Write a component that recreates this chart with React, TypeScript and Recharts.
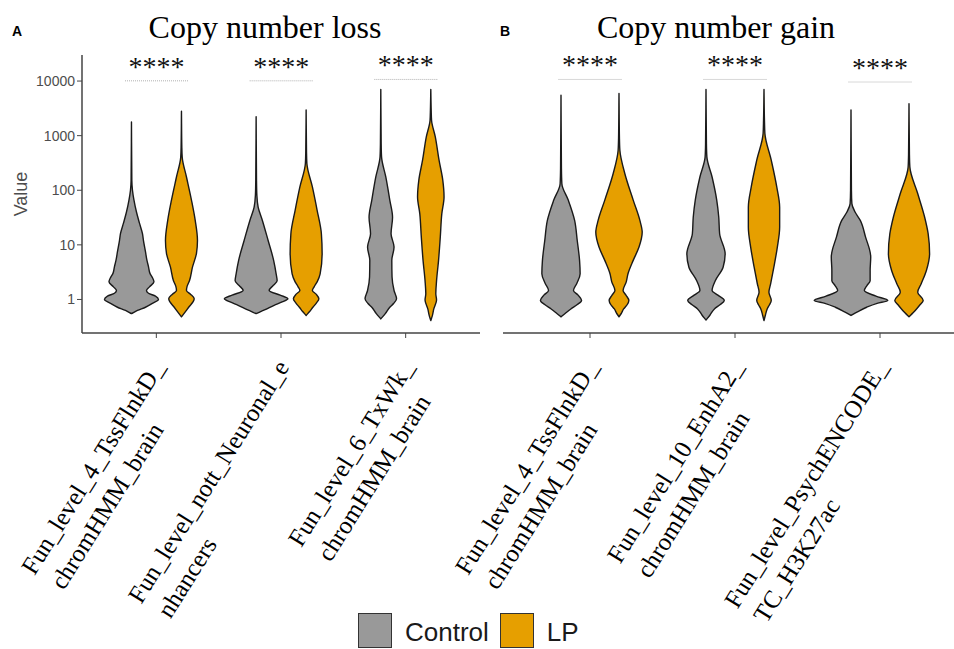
import React from 'react';
import { BarChart, Bar, XAxis, YAxis, Legend } from 'recharts';

// ============================================================================
// DATA
// ============================================================================

type Profile = [number, number][]; // [value, relative half-width], low -> high

const LOSS_CATEGORIES = [
  'Fun_level_4_TssFlnkD_\nchromHMM_brain',
  'Fun_level_nott_Neuronal_e\nnhancers',
  'Fun_level_6_TxWk_\nchromHMM_brain',
];

const GAIN_CATEGORIES = [
  'Fun_level_4_TssFlnkD_\nchromHMM_brain',
  'Fun_level_10_EnhA2_\nchromHMM_brain',
  'Fun_level_PsychENCODE_\nTC_H3K27ac',
];

const SERIES = [
  { key: 'control', name: 'Control', color: '#999999' },
  { key: 'lp', name: 'LP', color: '#E69F00' },
];

const LOSS_CONTROL: Profile[] = [
  [[0.55, 0], [0.63, 0.24], [0.72, 0.56], [0.85, 0.84], [1, 1.08], [1.15, 0.96], [1.3, 0.68], [1.46, 0.6], [1.7, 0.72], [2.1, 0.9], [2.5, 0.84], [3, 0.74], [4, 0.68], [5.2, 0.62], [7.5, 0.56], [12, 0.48], [16, 0.44], [25, 0.32], [40, 0.2], [66, 0.1], [100, 0.04], [150, 0.015], [1780, 0]],
  [[0.55, 0], [0.65, 0.36], [0.78, 0.72], [0.9, 1.04], [1.03, 1.27], [1.2, 0.96], [1.46, 0.52], [1.8, 0.68], [2.2, 0.84], [2.95, 0.8], [5.2, 0.7], [12, 0.48], [28, 0.25], [49, 0.08], [80, 0.03], [150, 0.015], [2230, 0]],
  [[0.44, 0], [0.55, 0.18], [0.72, 0.36], [0.85, 0.52], [1.03, 0.63], [1.46, 0.53], [2.57, 0.45], [5.2, 0.44], [9.1, 0.53], [16, 0.41], [32, 0.47], [66, 0.36], [175, 0.2], [408, 0.03], [700, 0.015], [7000, 0]],
];

const LOSS_LP: Profile[] = [
  [[0.48, 0], [0.6, 0.16], [0.75, 0.32], [0.9, 0.46], [1.03, 0.51], [1.25, 0.36], [1.46, 0.2], [1.7, 0.22], [2.2, 0.32], [3.9, 0.44], [7, 0.6], [12, 0.64], [28, 0.55], [66, 0.4], [175, 0.2], [400, 0.03], [600, 0.015], [2800, 0]],
  [[0.51, 0], [0.6, 0.14], [0.72, 0.27], [0.85, 0.4], [1.03, 0.51], [1.25, 0.4], [1.46, 0.25], [1.7, 0.32], [2.1, 0.44], [2.95, 0.56], [6.9, 0.64], [16, 0.61], [43, 0.44], [115, 0.25], [309, 0.03], [500, 0.015], [2950, 0]],
  [[0.41, 0], [0.5, 0.06], [0.67, 0.12], [0.98, 0.23], [1.27, 0.2], [2.2, 0.23], [5.2, 0.31], [14, 0.38], [37, 0.44], [76, 0.53], [152, 0.48], [355, 0.33], [950, 0.18], [1920, 0.03], [3000, 0.015], [7000, 0]],
];

const GAIN_CONTROL: Profile[] = [
  [[0.48, 0], [0.57, 0.17], [0.67, 0.34], [0.8, 0.55], [0.96, 0.71], [1.2, 0.59], [1.46, 0.43], [1.94, 0.54], [2.95, 0.66], [5.2, 0.64], [12, 0.56], [28, 0.47], [66, 0.25], [132, 0.03], [250, 0.015], [5500, 0]],
  [[0.42, 0], [0.52, 0.14], [0.67, 0.29], [0.8, 0.48], [0.96, 0.63], [1.2, 0.41], [1.46, 0.21], [2.2, 0.32], [3.9, 0.59], [6.9, 0.66], [16, 0.47], [32, 0.44], [66, 0.37], [175, 0.21], [408, 0.03], [700, 0.015], [7000, 0]],
  [[0.51, 0], [0.6, 0.24], [0.72, 0.54], [0.85, 0.9], [0.96, 1.27], [1.15, 0.86], [1.46, 0.46], [1.8, 0.55], [2.2, 0.66], [3.4, 0.66], [6, 0.68], [14, 0.5], [28, 0.32], [40, 0.14], [57, 0.03], [100, 0.015], [2950, 0]],
];

const GAIN_LP: Profile[] = [
  [[0.48, 0], [0.57, 0.09], [0.67, 0.16], [0.8, 0.28], [0.96, 0.34], [1.2, 0.24], [1.46, 0.14], [2.1, 0.25], [2.95, 0.31], [5.2, 0.49], [9.1, 0.69], [17, 0.8], [28, 0.72], [66, 0.49], [203, 0.2], [540, 0.03], [900, 0.015], [5900, 0]],
  [[0.41, 0], [0.52, 0.05], [0.67, 0.11], [0.8, 0.19], [0.96, 0.25], [1.36, 0.17], [1.94, 0.23], [3.9, 0.34], [9.1, 0.46], [21, 0.54], [49, 0.54], [115, 0.44], [355, 0.25], [1100, 0.03], [2000, 0.015], [7000, 0]],
  [[0.48, 0], [0.57, 0.14], [0.67, 0.26], [0.8, 0.38], [0.96, 0.49], [1.36, 0.3], [1.94, 0.42], [3.4, 0.6], [6.9, 0.71], [16, 0.66], [32, 0.54], [87, 0.3], [265, 0.03], [450, 0.015], [3850, 0]],
];

// height of the significance bracket for each pair
const LOSS_SIG = [10100, 10100, 10700];
const GAIN_SIG = [10700, 10700, 9600];
const SIG_LABEL = '****';

const Y_TICKS = [1, 10, 100, 1000, 10000];
const Y_DOMAIN: [number, number] = [0.243, 30000];

// ============================================================================
// HELPERS
// ============================================================================

const SERIF = '"Liberation Serif", "Times New Roman", Times, serif';
const SANS = '"Liberation Sans", Arial, Helvetica, sans-serif';
const LABEL_SIZE = 25;
const LABEL_ANGLE = -58;
const AXIS_COLOR = '#444444';

const buildRows = (cats: string[], ctrl: Profile[], lp: Profile[], sig: number[]) =>
  cats.map((name, i) => ({ name, control: ctrl[i], lp: lp[i], sig: sig[i] }));

const lossRows = buildRows(LOSS_CATEGORIES, LOSS_CONTROL, LOSS_LP, LOSS_SIG);
const gainRows = buildRows(GAIN_CATEGORIES, GAIN_CONTROL, GAIN_LP, GAIN_SIG);

const range = (p: Profile): [number, number] => [p[0][0], p[p.length - 1][0]];

// monotone cubic through points, x as a function of y
const curve = (pts: number[][]): string => {
  const n = pts.length;
  const h: number[] = [];
  const s: number[] = [];
  for (let i = 0; i < n - 1; i++) {
    h.push(pts[i + 1][1] - pts[i][1]);
    s.push((pts[i + 1][0] - pts[i][0]) / h[i]);
  }
  const m: number[] = new Array(n).fill(0);
  m[0] = s[0];
  m[n - 1] = s[n - 2];
  for (let i = 1; i < n - 1; i++) {
    const s0 = s[i - 1];
    const s1 = s[i];
    if (s0 * s1 <= 0) {
      m[i] = 0;
    } else {
      const p = (s0 * h[i] + s1 * h[i - 1]) / (h[i - 1] + h[i]);
      m[i] = (Math.sign(s0) + Math.sign(s1)) * Math.min(Math.abs(s0), Math.abs(s1), 0.5 * Math.abs(p));
    }
  }
  let d = '';
  for (let i = 0; i < n - 1; i++) {
    const [x0, y0] = pts[i];
    const [x1, y1] = pts[i + 1];
    const k = h[i] / 3;
    d += ` C${x0 + m[i] * k},${y0 + k} ${x1 - m[i + 1] * k},${y1 - k} ${x1},${y1}`;
  }
  return d;
};

const Violin = (props: any) => {
  const { x, y, width, height, fill, profile } = props;
  if (!profile || !height) return null;
  const lmin = Math.log10(profile[0][0]);
  const lmax = Math.log10(profile[profile.length - 1][0]);
  const cx = x + width / 2;
  const half = width / 2;
  const toY = (v: number) => y + (height * (lmax - Math.log10(v))) / (lmax - lmin);
  const right = [...profile].reverse().map(([v, w]: number[]) => [cx + w * half, toY(v)]);
  const left = profile.map(([v, w]: number[]) => [cx - w * half, toY(v)]);
  const d = `M${right[0][0]},${right[0][1]}${curve(right)}${curve(left)}Z`;
  return <path d={d} fill={fill} stroke="#1a1a1a" strokeWidth={1.4} strokeLinejoin="round" />;
};

const SigMark = (props: any) => {
  const { x, y, width } = props;
  return (
    <g>
      <line x1={x} x2={x + width} y1={y} y2={y} stroke="#b0b0b0" strokeWidth={1} strokeDasharray="1 1" />
      <text x={x + width / 2} y={y - 5} textAnchor="middle" fontFamily={SERIF} fontSize={28} fill="#111">
        {SIG_LABEL}
      </text>
    </g>
  );
};

let measureCtx: CanvasRenderingContext2D | null = null;
const textWidth = (s: string) => {
  if (!measureCtx) measureCtx = document.createElement('canvas').getContext('2d');
  if (!measureCtx) return s.length * LABEL_SIZE * 0.48;
  measureCtx.font = `${LABEL_SIZE}px ${SERIF}`;
  return measureCtx.measureText(s).width;
};

const CategoryTick = (props: any) => {
  const { x, y, payload } = props;
  const [l1, l2] = String(payload.value).split('\n');
  const w1 = textWidth(l1);
  return (
    <g transform={`translate(${x + 9},${y + 29}) rotate(${LABEL_ANGLE})`}>
      <text x={0} y={0} textAnchor="end" fontFamily={SERIF} fontSize={LABEL_SIZE} fill="#000">
        {l1}
      </text>
      <text x={-w1 + 3} y={32.5} textAnchor="start" fontFamily={SERIF} fontSize={LABEL_SIZE} fill="#000">
        {l2}
      </text>
    </g>
  );
};

const LegendContent = (props: any) => {
  const items = (props.payload || []).filter((p: any) => p.type !== 'none' && p.value !== 'sig');
  const list = items.length ? items.map((p: any) => ({ name: p.value, color: p.color })) : SERIES;
  return (
    <div style={{ display: 'flex', alignItems: 'center', fontFamily: SANS, fontSize: 26, color: '#1a1a1a' }}>
      {list.map((it: any) => (
        <div key={it.name} style={{ display: 'flex', alignItems: 'center', marginRight: 11 }}>
          <span
            style={{
              display: 'inline-block',
              width: 34,
              height: 35,
              boxSizing: 'border-box',
              background: it.color,
              border: '1.5px solid #333',
            }}
          />
          <span style={{ marginLeft: 13, position: 'relative', top: 2 }}>{it.name}</span>
        </div>
      ))}
    </div>
  );
};

// ============================================================================
// PANELS
// ============================================================================

interface PanelProps {
  rows: any[];
  width: number;
  marginLeft: number;
  pad: number;
  showY: boolean;
  showLegend?: boolean;
}

const Panel: React.FC<PanelProps> = ({ rows, width, marginLeft, pad, showY, showLegend }) => (
  <BarChart
    width={width}
    height={649}
    data={rows}
    margin={{ top: 55, right: 0, bottom: 286, left: marginLeft }}
    barCategoryGap="10%"
    barGap={0}
  >
    <XAxis
      dataKey="name"
      interval={0}
      padding={{ left: pad, right: pad }}
      height={30}
      tickSize={5}
      tickMargin={0}
      axisLine={{ stroke: AXIS_COLOR, strokeWidth: 1.5 }}
      tickLine={{ stroke: AXIS_COLOR, strokeWidth: 1 }}
      tick={(p: any) => <CategoryTick {...p} />}
    />
    <XAxis xAxisId="sig" dataKey="name" hide padding={{ left: pad, right: pad }} />
    <YAxis
      type="number"
      scale="log"
      domain={Y_DOMAIN}
      allowDataOverflow
      ticks={Y_TICKS}
      hide={!showY}
      width={60}
      tickSize={5}
      tickMargin={2}
      axisLine={{ stroke: AXIS_COLOR, strokeWidth: 1.5 }}
      tickLine={{ stroke: AXIS_COLOR, strokeWidth: 1 }}
      tick={{ fill: '#4d4d4d', fontSize: 14, fontFamily: SANS }}
      label={{
        value: 'Value',
        angle: -90,
        position: 'insideLeft',
        offset: -1,
        fill: '#4d4d4d',
        fontSize: 18,
        fontFamily: SANS,
        style: { textAnchor: 'middle' },
      }}
    />
    {SERIES.map((s) => (
      <Bar
        key={s.key}
        name={s.name}
        dataKey={(d: any) => range(d[s.key])}
        fill={s.color}
        isAnimationActive={false}
        shape={(p: any) => <Violin {...p} profile={p.payload[s.key]} />}
      />
    ))}
    <Bar
      xAxisId="sig"
      name="sig"
      legendType="none"
      dataKey={(d: any) => [d.sig * 0.9, d.sig]}
      barSize={63}
      fill="none"
      isAnimationActive={false}
      shape={(p: any) => <SigMark {...p} />}
    />
    {showLegend && (
      <Legend
        verticalAlign="middle"
        align="center"
        layout="horizontal"
        wrapperStyle={{ position: 'absolute', left: 358, top: 613, width: 300, height: 36 }}
        content={(p: any) => <LegendContent {...p} />}
      />
    )}
  </BarChart>
);

export default function App() {
  return (
    <div
      style={{
        position: 'absolute',
        left: 0,
        top: 0,
        width: 954,
        height: 649,
        overflow: 'hidden',
        background: '#fff',
      }}
    >
      <div style={{ position: 'absolute', left: 0, top: 0 }}>
        <Panel rows={lossRows} width={480} marginLeft={22} pad={12} showY showLegend />
      </div>
      <div style={{ position: 'absolute', left: 380, top: 0 }}>
        <Panel rows={gainRows} width={587} marginLeft={123} pad={14.5} showY={false} />
      </div>
      <svg
        width={954}
        height={649}
        style={{ position: 'absolute', left: 0, top: 0, pointerEvents: 'none' }}
      >
        <text x={12} y={36} fontFamily={SANS} fontWeight="bold" fontSize={14} fill="#000">A</text>
        <text x={500} y={36} fontFamily={SANS} fontWeight="bold" fontSize={14} fill="#000">B</text>
        <text x={265} y={38} textAnchor="middle" fontFamily={SERIF} fontSize={32} fill="#000">
          Copy number loss
        </text>
        <text x={716} y={38} textAnchor="middle" fontFamily={SERIF} fontSize={32} fill="#000">
          Copy number gain
        </text>
      </svg>
    </div>
  );
}
